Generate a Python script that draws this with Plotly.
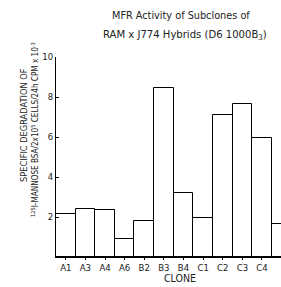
import plotly.graph_objects as go

clones = ["A1", "A3", "A4", "A6", "B2", "B3", "B4", "C1", "C2", "C3", "C4", "D"]
degradation = [2.15, 2.4, 2.35, 0.9, 1.8, 8.45, 3.2, 1.95, 7.1, 7.65, 5.95, 1.65]
y_ticks = [2, 4, 6, 8, 10]

FONT = "Liberation Sans Narrow, DejaVu Sans Condensed, Arial Narrow, sans-serif"

L, T, PW, PH = 56, 57, 225, 200
W, H = 281, 287

fig = go.Figure(go.Bar(
    x=clones, y=degradation,
    marker=dict(color="white", line=dict(color="black", width=1)),
    width=1.0,
))

fig.update_layout(
    width=W, height=H,
    margin=dict(l=L, r=W - L - PW, t=T, b=H - T - PH),
    paper_bgcolor="white", plot_bgcolor="white",
    showlegend=False, bargap=0,
    font=dict(family=FONT, size=9, color="#222"),
)
fig.update_xaxes(
    range=[-0.5, 10.97], showgrid=False, showline=True, linecolor="black", linewidth=1,
    ticks="outside", ticklen=2, tickcolor="black", tickfont=dict(size=9.5),
)
fig.update_yaxes(
    range=[0, 10], tickvals=y_ticks, ticktext=[str(v) for v in y_ticks],
    showgrid=False, showline=True, linecolor="black", linewidth=1,
    ticks="inside", ticklen=3, tickcolor="black", tickfont=dict(size=9.5), zeroline=False,
)

def px(x):
    return (x - L) / PW

def py(y):
    return (T + PH - y) / PH

fig.add_annotation(text="MFR Activity of Subclones of", xref="paper", yref="paper",
                   x=px(181), y=py(16), showarrow=False,
                   font=dict(size=10.8), xanchor="center", yanchor="middle")
fig.add_annotation(text="RAM x J774 Hybrids (D6 1000B<sub>3</sub>)", xref="paper", yref="paper",
                   x=px(185), y=py(35), showarrow=False,
                   font=dict(size=11.2), xanchor="center", yanchor="middle")
fig.add_annotation(text="SPECIFIC DEGRADATION OF", xref="paper", yref="paper",
                   x=px(23), y=py(125), showarrow=False, textangle=-90,
                   font=dict(size=9.2), xanchor="center", yanchor="middle")
fig.add_annotation(text="<sup>125</sup>I-MANNOSE BSA/2x10<sup>5</sup> CELLS/24h CPM x 10<sup>-3</sup>",
                   xref="paper", yref="paper",
                   x=px(35), y=py(130), showarrow=False, textangle=-90,
                   font=dict(size=8.1), xanchor="center", yanchor="middle")
fig.add_annotation(text="CLONE", xref="paper", yref="paper",
                   x=px(180), y=py(278), showarrow=False,
                   font=dict(size=10.5), xanchor="center", yanchor="middle")

fig.write_html(
    "out.html",
    config={"displayModeBar": False},
    post_script="document.body.style.margin='0';document.body.style.overflow='hidden';",
)
